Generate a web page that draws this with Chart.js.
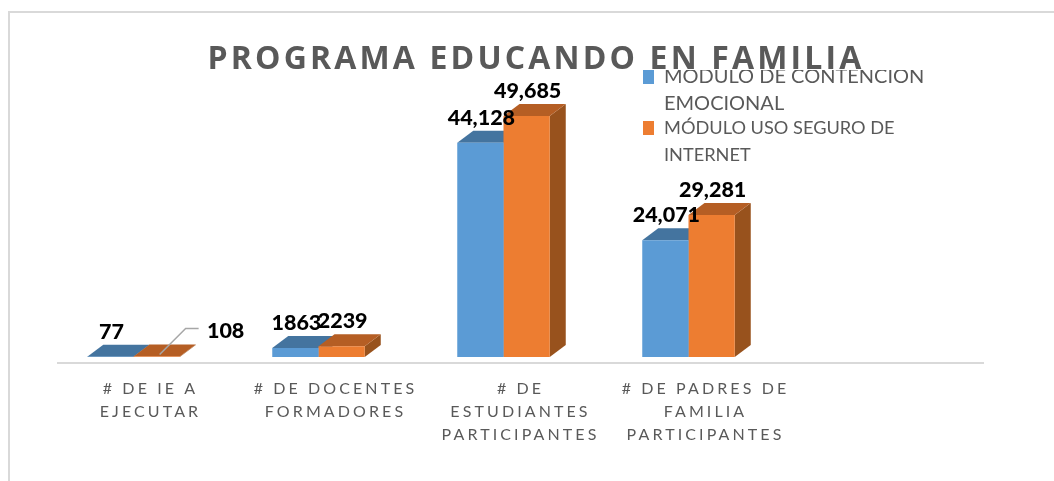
<!DOCTYPE html>
<html>
<head>
<meta charset="utf-8">
<title>Programa Educando en Familia</title>
<script src="https://cdn.jsdelivr.net/npm/chart.js@4"></script>
<style>
  html, body { margin: 0; padding: 0; background: #fff; overflow: hidden; }
  #frame { position: absolute; left: 8px; top: 11px; right: 0; bottom: 0; border-top: 2px solid #d9d9d9; border-left: 2px solid #d9d9d9; }
  #chart { position: absolute; left: 0; top: 0; }
</style>
</head>
<body>
<div id="frame"></div>
<canvas id="chart" width="1054" height="481"></canvas>
<script>
const categories = [
  ['# DE IE A', 'EJECUTAR'],
  ['# DE DOCENTES', 'FORMADORES'],
  ['# DE', 'ESTUDIANTES', 'PARTICIPANTES'],
  ['# DE PADRES DE', 'FAMILIA', 'PARTICIPANTES'],
  ''
];
const contencion = [77, 1863, 44128, 24071, null];
const usoSeguro = [108, 2239, 49685, 29281, null];
const contencionName = ['MÓDULO DE CONTENCIÓN', 'EMOCIONAL'];
const usoSeguroName = ['MÓDULO USO SEGURO DE', 'INTERNET'];
const contencionLabels = ['77', '1863', '44,128', '24,071'];
const usoSeguroLabels = ['108', '2239', '49,685', '29,281'];

const DEPTH_X = 16, DEPTH_Y = 12;

// fake the 3D look: the side and top of each bar, taken from the bar elements
const depthPlugin = {
  id: 'depth',
  beforeDatasetsDraw(chart) {
    const ctx = chart.ctx;
    ctx.save();
    ctx.translate(-17, -6);
    chart.data.datasets.forEach((ds, i) => {
      chart.getDatasetMeta(i).data.forEach((el, j) => {
        if (ds.data[j] == null) return;
        const w = el.width / 2, l = el.x - w, r = el.x + w, t = el.y, b = el.base;
        ctx.fillStyle = ds.sideColor;
        ctx.beginPath();
        ctx.moveTo(r, t);
        ctx.lineTo(r + DEPTH_X, t - DEPTH_Y);
        ctx.lineTo(r + DEPTH_X, b - DEPTH_Y);
        ctx.lineTo(r, b);
        ctx.closePath();
        ctx.fill();
        ctx.fillStyle = ds.topColor;
        ctx.beginPath();
        ctx.moveTo(l, t);
        ctx.lineTo(l + DEPTH_X, t - DEPTH_Y);
        ctx.lineTo(r + DEPTH_X, t - DEPTH_Y);
        ctx.lineTo(r, t);
        ctx.closePath();
        ctx.fill();
      });
    });
  },
  afterDatasetsDraw(chart) {
    const ctx = chart.ctx;
    // leader line of the 108 label
    const el = chart.getDatasetMeta(1).data[0];
    ctx.strokeStyle = '#a6a6a6';
    ctx.lineWidth = 1.5;
    ctx.beginPath();
    ctx.moveTo(el.x + 3, el.y - 2);
    ctx.lineTo(el.x + 29, el.y - 28);
    ctx.lineTo(el.x + 42, el.y - 28);
    ctx.stroke();
    // value labels
    ctx.font = '900 21.5px Lato';
    ctx.fillStyle = '#000';
    ctx.textAlign = 'center';
    ctx.textBaseline = 'middle';
    chart.data.datasets.forEach((ds, i) => {
      chart.getDatasetMeta(i).data.forEach((e, j) => {
        if (ds.data[j] == null) return;
        const dx = (i === 1 && j === 0) ? 69 : 1;
        ctx.fillText(ds.valueLabels[j], e.x + dx, e.y - 25);
      });
    });
    ctx.restore();
  }
};

// title and legend sit over the plot in the original, and the title and ticks are spaced out
const placePlugin = {
  id: 'place',
  afterLayout(chart) {
    const t = chart.titleBlock;
    t.left = 0;
    t.right = 1072;
    const l = chart.legend;
    l.left = 643;
    l.top = 70;
    l.right = 1054;
    l.bottom = 300;
  },
  beforeDraw(chart) {
    if (chart.$spaced) return;
    chart.$spaced = true;
    const ctx = chart.ctx;
    const spaced = (obj, name, px) => {
      const fn = obj[name];
      obj[name] = function (...args) {
        ctx.letterSpacing = px;
        fn.apply(this, args);
        ctx.letterSpacing = '0px';
      };
    };
    spaced(chart.titleBlock, 'draw', '3.15px');
    spaced(chart.scales.x, 'drawLabels', '3.1px');
    // second legend item is set smaller in the original, legend has only one font option
    const legendDraw = chart.legend.draw;
    chart.legend.draw = function (...args) {
      ctx.fillText = function (s, x, y, m) {
        if (usoSeguroName.includes(s)) ctx.font = '18.2px Lato';
        CanvasRenderingContext2D.prototype.fillText.call(ctx, s, x, y, m);
      };
      legendDraw.apply(this, args);
      delete ctx.fillText;
    };
  }
};

new Chart(document.getElementById('chart'), {
  type: 'bar',
  data: {
    labels: categories,
    datasets: [
      { label: contencionName, data: contencion, valueLabels: contencionLabels, backgroundColor: '#5b9bd5', topColor: '#44749f', sideColor: '#3e6d98' },
      { label: usoSeguroName, data: usoSeguro, valueLabels: usoSeguroLabels, backgroundColor: '#ed7d31', topColor: '#b55e24', sideColor: '#98521d' }
    ]
  },
  options: {
    responsive: false,
    animation: false,
    layout: { padding: { left: 0, right: 71, top: 0, bottom: 0 } },
    datasets: { bar: { barPercentage: 1, categoryPercentage: 0.5 } },
    plugins: {
      tooltip: { enabled: false },
      title: {
        display: true,
        text: 'PROGRAMA EDUCANDO EN FAMILIA',
        color: '#595959',
        font: { family: 'Open Sans', size: 32, weight: 'bold', lineHeight: 1.2 },
        padding: { top: 41, bottom: -9 }
      },
      legend: {
        position: 'chartArea',
        align: 'start',
        labels: {
          generateLabels(chart) {
            return chart.data.datasets.map((ds, i) => ({
              text: ds.label, fillStyle: ds.backgroundColor, strokeStyle: ds.backgroundColor,
              lineWidth: 0, fontColor: '#595959', datasetIndex: i
            }));
          },
          color: '#595959',
          boxWidth: 14,
          boxHeight: 14,
          padding: -3,
          font: { family: 'Lato', size: 20, lineHeight: 1.35 }
        }
      }
    },
    scales: {
      x: {
        grid: { display: false },
        border: { color: '#d9d9d9', width: 2 },
        ticks: {
          color: '#595959', maxRotation: 0, autoSkip: false, padding: 6,
          font: { family: 'Lato', size: 16, lineHeight: 1.44 }
        },
        afterFit(s) { s.height = 118; }
      },
      y: {
        min: 0,
        max: 60300,
        grid: { display: false },
        border: { display: false },
        ticks: { display: false },
        afterFit(s) { s.width = 58; }
      }
    }
  },
  plugins: [depthPlugin, placePlugin]
});
</script>
</body>
</html>
